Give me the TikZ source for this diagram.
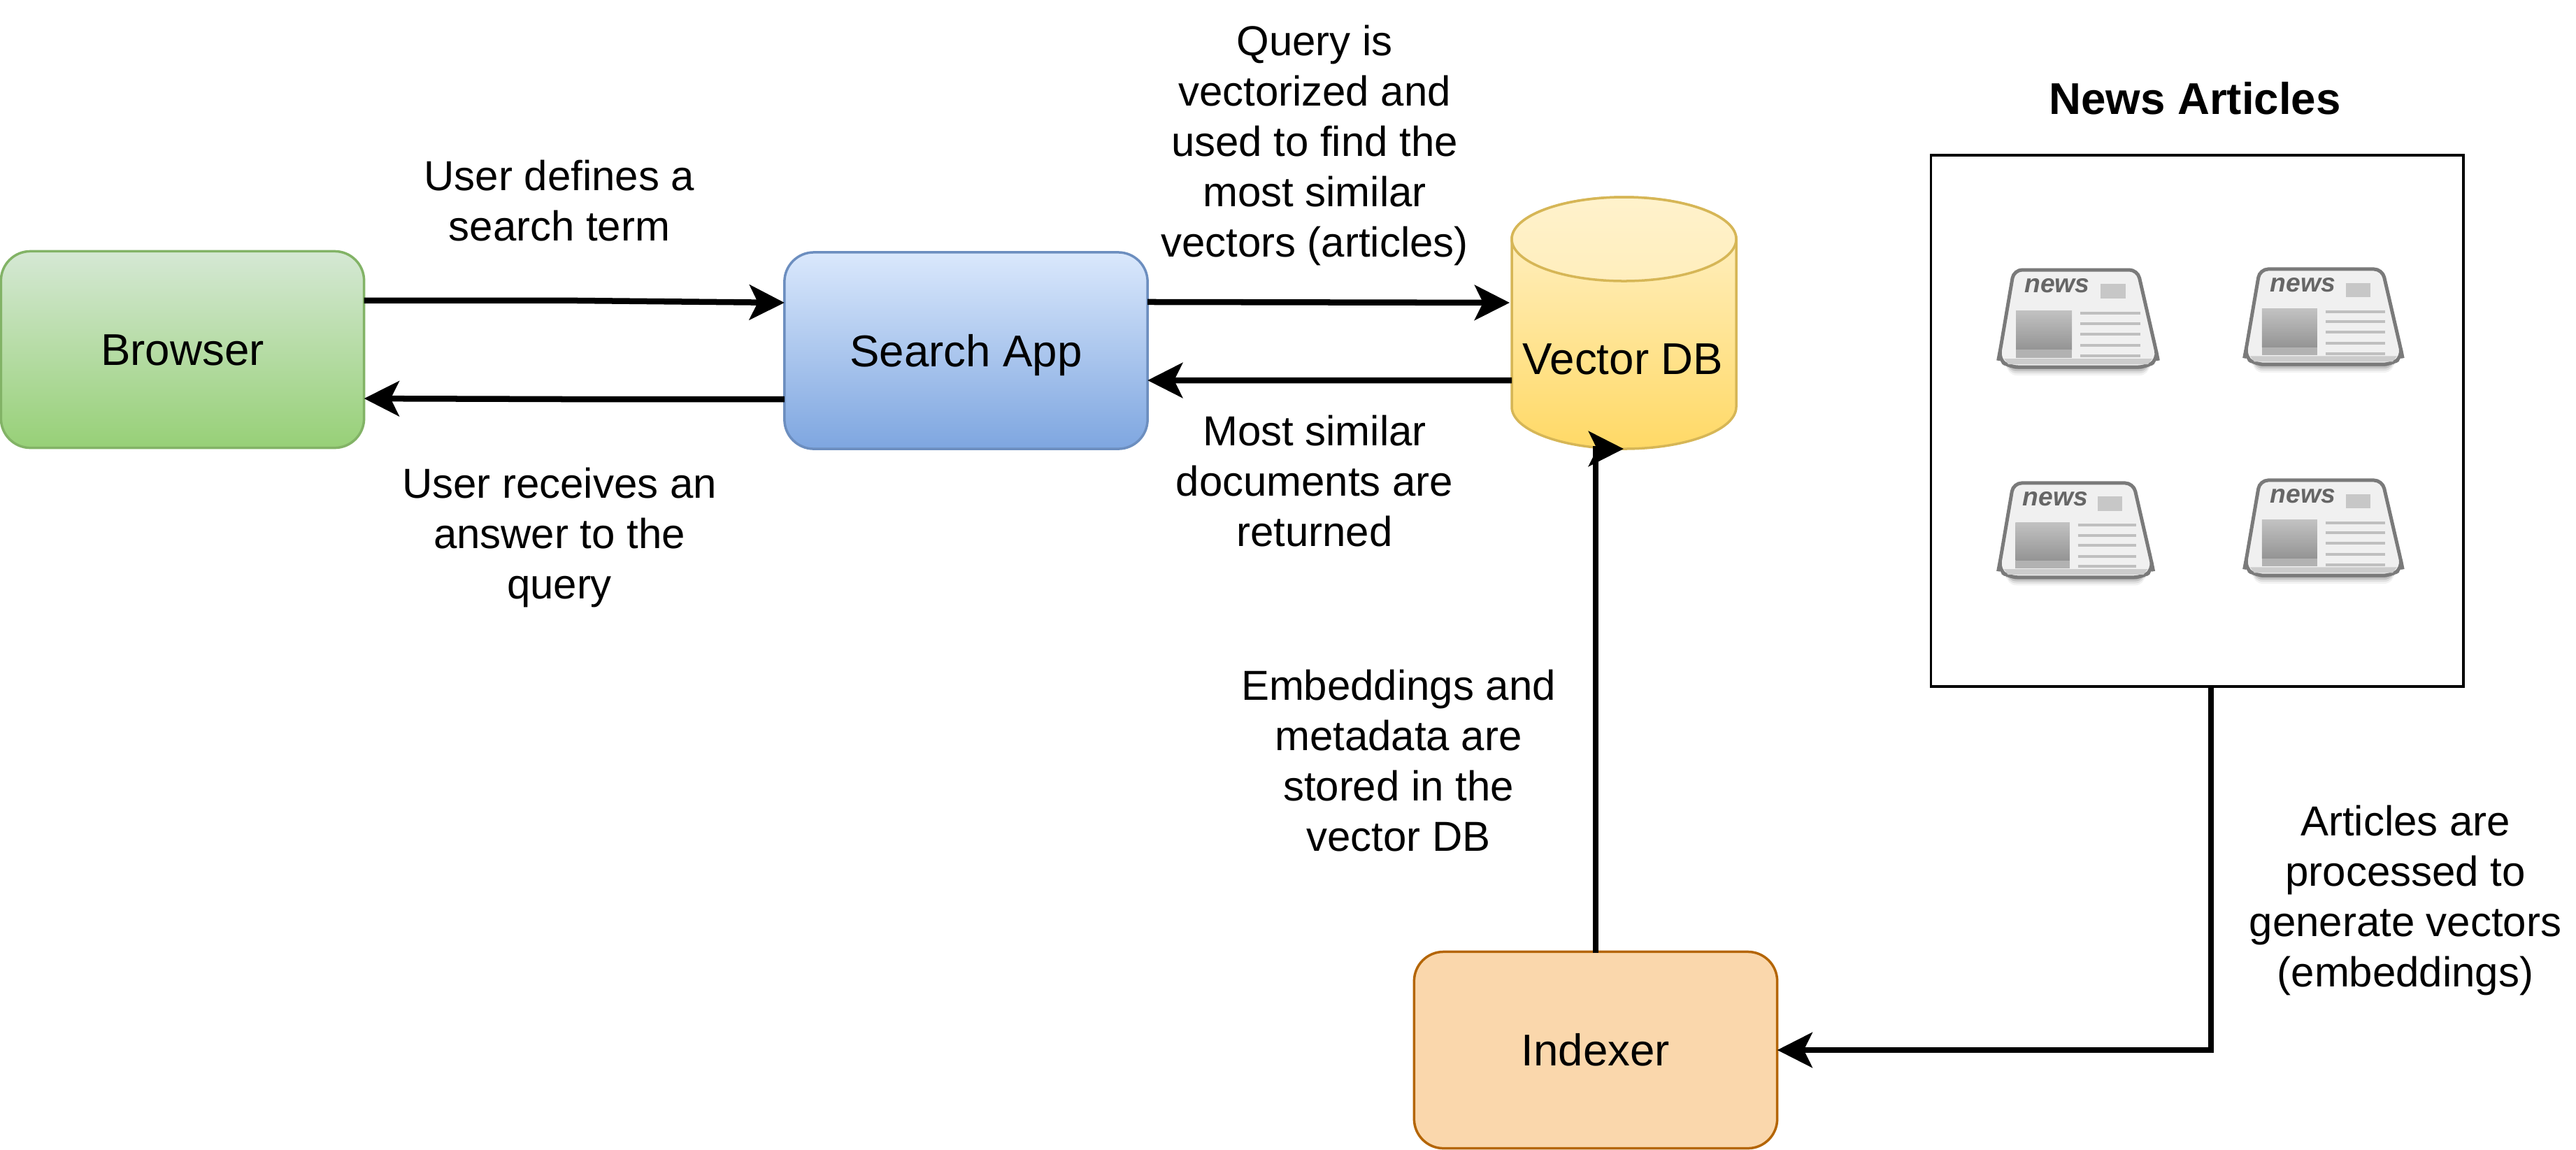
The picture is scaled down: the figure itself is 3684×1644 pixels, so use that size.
\documentclass[tikz,border=0pt]{standalone}
\usepackage{fontspec}
\setmainfont{Liberation Sans}
\usetikzlibrary{arrows.meta}
\definecolor{brT}{HTML}{D5E8D4}\definecolor{brB}{HTML}{97D077}\definecolor{brL}{HTML}{82B366}
\definecolor{saT}{HTML}{DAE8FC}\definecolor{saB}{HTML}{7EA6E0}\definecolor{saL}{HTML}{6C8EBF}
\definecolor{dbT}{HTML}{FFF2CC}\definecolor{dbB}{HTML}{FFD966}\definecolor{dbL}{HTML}{D6B656}
\definecolor{ixF}{HTML}{FAD7AC}\definecolor{ixL}{HTML}{B46504}
\newcommand{\lbl}{\fontsize{18.1}{20.5}\selectfont}
\newcommand{\lbls}{\fontsize{17.05}{20.5}\selectfont}
\tikzset{
  flowbox/.style={rectangle,rounded corners=0.42cm,minimum width=5.19cm,minimum height=2.81cm,line width=0.035cm,inner sep=0pt,outer sep=0pt,font=\lbl,text height=13pt,text depth=0pt},
  lbl/.style={align=center,font=\lbls,inner sep=0pt,outer sep=0pt},
  link/.style={line width=0.085cm,-{Stealth[length=0.5cm,width=0.5cm,inset=0.12cm]}},
}
% #1 name, #2 x, #3 y, #4 xscale, #5 yscale
\newcommand{\newsicon}[5]{%
\begin{scope}[shift={(#2,#3)},xscale=#4,yscale=#5]
  \foreach \g/\o in {10/0.05,7/0.08,4/0.12,1/0.18}{
    \fill[black,opacity=\o,rounded corners=0.14cm] (12,128) rectangle (216,143+\g);
  }
  \path[fill=black!6,draw=black!52,line width=0.05cm,rounded corners=0.12cm]
     (22,2) -- (199,2) -- (226,120) -- (228,130) -- (212,141) -- (16,141) -- (0,130) -- (2,120) -- cycle;
  \fill[black!20] (8,129) -- (220,129) -- (214,137) -- (14,137) -- cycle;
  \fill[black!22] (146,22) rectangle (182,43);
  \shade[top color=black!24,bottom color=black!42] (25,60) rectangle (105,116);
  \fill[black!30] (25,116) rectangle (105,128);
  \foreach \ly in {64,79,94,110,125}{
    \draw[black!25,line width=0.04cm] (117,\ly) -- (203,\ly);
  }
  \node[inner sep=0pt,outer sep=0pt,text=black!60,font=\bfseries\itshape\fontsize{10.6}{11}\selectfont] (#1) at (84,25) {news};
\end{scope}}
\begin{document}
\begin{tikzpicture}[x=0.01cm,y=-0.01cm]
\useasboundingbox (0,0) rectangle (3684,1644);
\fill[white] (0,0) rectangle (3684,1644);

\node[flowbox,draw=brL,top color=brT,bottom color=brB] (browser) at (261,500) {Browser};
\node[flowbox,draw=saL,top color=saT,bottom color=saB] (search) at (1381.5,501.5) {Search App};
\node[flowbox,draw=ixL,fill=ixF] (indexer) at (2282,1502) {Indexer};

% vector DB cylinder
\path[draw=dbL,line width=0.035cm,top color=dbT,bottom color=dbB]
  (2162,342) arc[x radius=160.5,y radius=60,start angle=180,end angle=360]
  -- (2483,582) arc[x radius=160.5,y radius=60,start angle=0,end angle=180] -- cycle;
\path[draw=dbL,line width=0.035cm,top color=dbT,bottom color=dbT!85!dbB]
  (2322.5,342) ellipse[x radius=160.5,y radius=60];
\node[lbl,font=\lbl] (vdb) at (2321,514) {Vector DB};
\coordinate (dbW) at (2159,433);
\coordinate (dbWb) at (2162,544);
\coordinate (dbS) at (2322,642);
\coordinate (idxUp) at (2282,1363);
\coordinate (dbCorner) at (2282,642);

% news panel
\node[draw=black,line width=0.035cm,minimum width=7.61cm,minimum height=7.6cm,inner sep=0pt,outer sep=0pt] (panel) at (3142,602) {};
\node[lbl,font=\lbl\bfseries] (paneltitle) at (3139,141) {News Articles};
\newsicon{icona}{2858}{384}{1}{1}
\newsicon{iconb}{3210}{383}{0.99}{0.98}
\newsicon{iconc}{2858}{689}{0.97}{0.97}
\newsicon{icond}{3210}{685}{0.99}{0.98}

% connectors
\draw[link] ([yshift=0.7cm]browser.east) -- ++(303,0) -- ([yshift=0.685cm]search.west);
\draw[link] ([yshift=-0.695cm]search.west) -- ++(-300,0) -- ([yshift=-0.7cm]browser.east);
\draw[link] ([yshift=0.695cm]search.east) -- (dbW);
\draw[link] (dbWb) -- ([yshift=-0.425cm]search.east);
\draw[link] (idxUp) -- (dbCorner) -- (dbS);
\draw[link] ([xshift=0.2cm]panel.south) |- (indexer.east);

% labels
\node[lbl] (l1) at (800,287) {User defines a\\search term};
\node[lbl] (l2) at (800,769) {User receives an\\answer to the\\query\hspace{0.14cm}};
\node[lbl] (l3) at (1880,208) {Query is\\vectorized and\\used to find the\\most similar\\vectors (articles)};
\node[lbl] (l4) at (1880,688) {Most similar\\documents are\\returned};
\node[lbl] (l5) at (2000,1088) {Embeddings and\\metadata are\\stored in the\\vector DB};
\node[lbl] (l6) at (3440,1288) {Articles are\\processed to\\generate vectors\\(embeddings)};
\end{tikzpicture}
\end{document}
